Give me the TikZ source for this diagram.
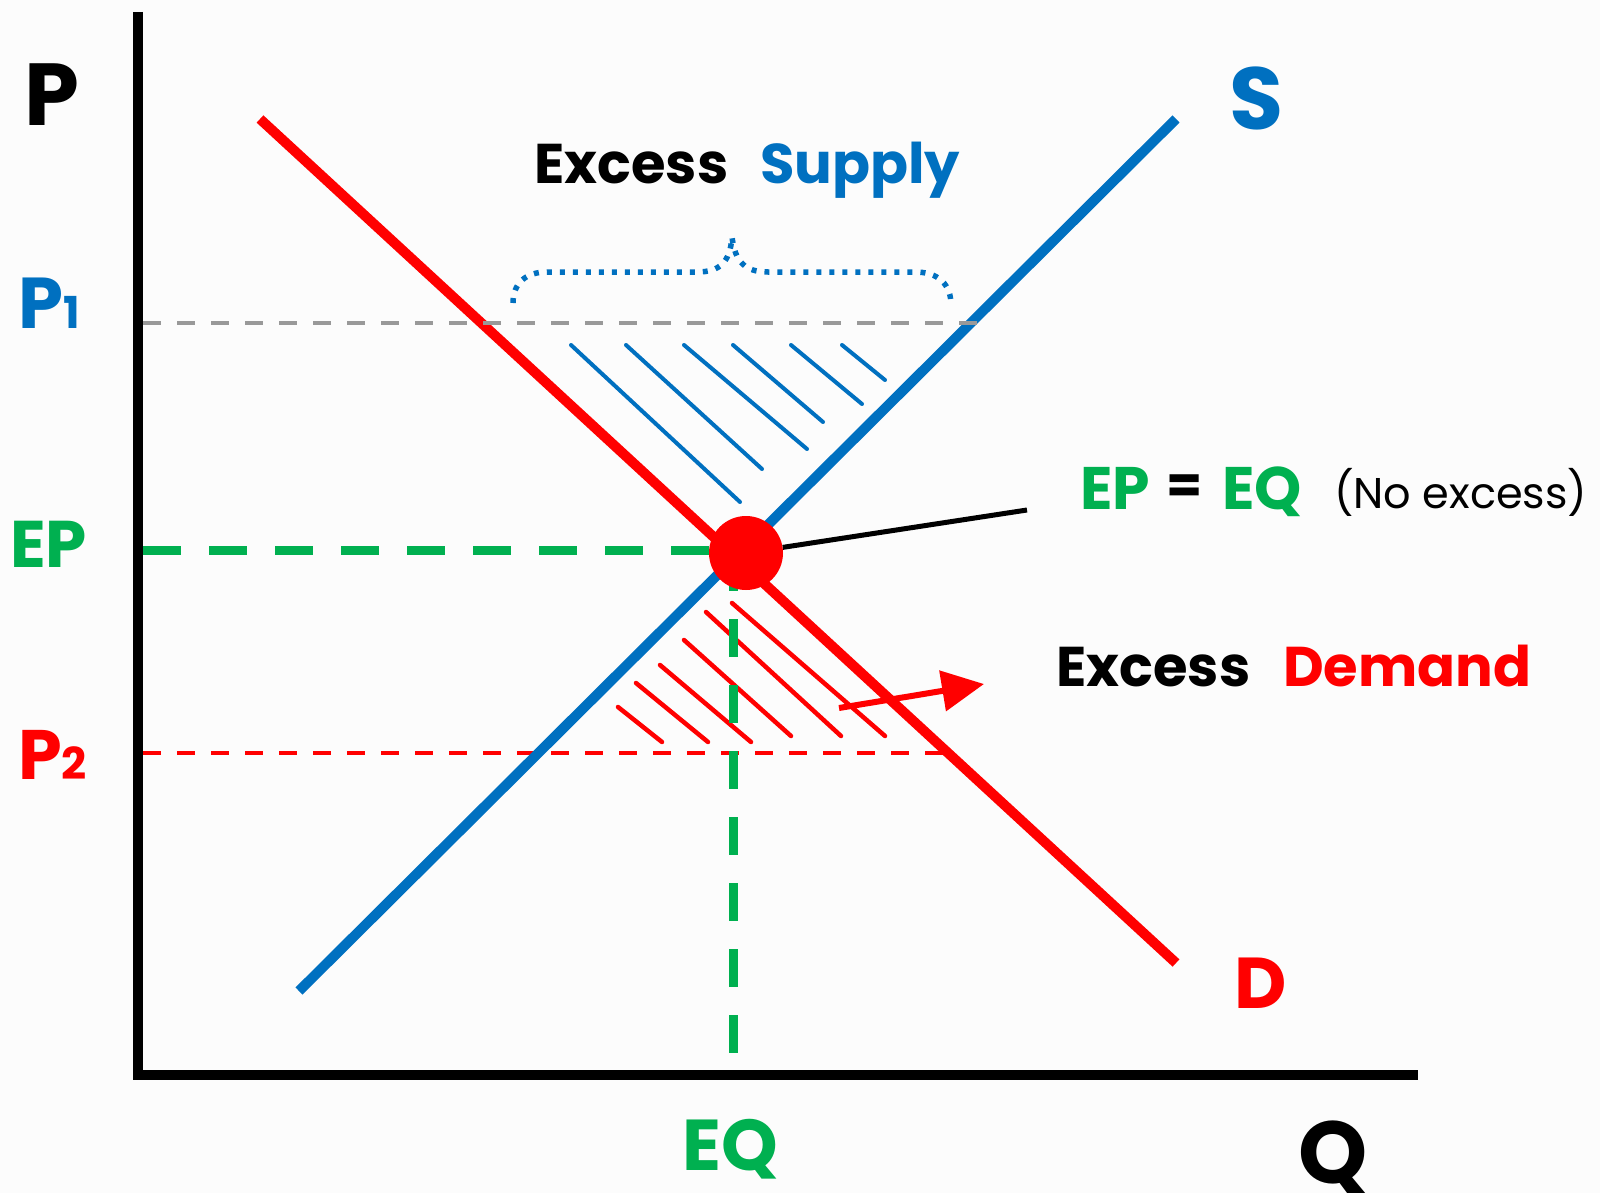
\documentclass[tikz,border=0pt]{standalone}
\usepackage{fontspec}
\setmainfont{Poppins}
\usetikzlibrary{arrows.meta}
\definecolor{sblue}{HTML}{0070C0}
\definecolor{dred}{HTML}{FF0000}
\definecolor{egreen}{HTML}{00B050}
\definecolor{pgray}{HTML}{999999}
\definecolor{bgc}{HTML}{FCFCFC}
\newcommand\fsz[1]{\fontsize{#1}{#1}\selectfont}
\begin{document}
\begin{tikzpicture}[x=1pt,y=-1pt,
  lbl/.style={inner sep=0pt, anchor=base west},
  axisline/.style={line width=10pt, black},
  curveline/.style={line width=10pt},
  hatchS/.style={sblue, line width=4pt, line cap=round},
  hatchD/.style={dred, line width=4.5pt, line cap=round},
  greendash/.style={egreen, line width=9pt, dash pattern=on 38pt off 28pt},
  thindash/.style={line width=4.5pt, dash pattern=on 18pt off 16pt}]
\fill[bgc] (0,0) rectangle (1600,1193);
\useasboundingbox (0,0) rectangle (1600,1193);

% axes
\coordinate (ytop) at (138,12);
\coordinate (orig) at (138,1075);
\coordinate (xend) at (1418,1075);
\draw[axisline] (ytop) -- (138,1080);
\draw[black, line width=10pt] (orig) -- (xend);

% P1 and P2 levels
\coordinate (p1a) at (143,323);
\coordinate (p1b) at (985,323);
\coordinate (p2a) at (143,753);
\coordinate (p2b) at (946,753);
\draw[thindash, dred] (p2a) -- (p2b);

% hatching (excess supply)
\draw[hatchS] (571,345) -- (740,502);
\draw[hatchS] (626,345) -- (762,469);
\draw[hatchS] (684,345) -- (807,449);
\draw[hatchS] (733,345) -- (823,422);
\draw[hatchS] (791,345) -- (862,404);
\draw[hatchS] (842,345) -- (885,380);

% hatching (excess demand)
\draw[hatchD] (618,707) -- (662,742);
\draw[hatchD] (636,683) -- (708,742);
\draw[hatchD] (660,665) -- (751,742);
\draw[hatchD] (684,640) -- (791,736);
\draw[hatchD] (706,612) -- (841,736);
\draw[hatchD] (732,603) -- (885,736);

% supply and demand
\coordinate (s1) at (299,991);
\coordinate (s2) at (1176,119);
\coordinate (d1) at (260,119);
\coordinate (d2) at (1176,963);
\draw[curveline, sblue] (s1) -- (s2);
\draw[curveline, dred] (d1) -- (d2);

\draw[thindash, pgray] (p1a) -- (p1b);

% brace
\draw[sblue, line width=5.5pt, line join=round, dash pattern=on 5pt off 8pt]
  (513,303) .. controls (513,284) and (525,272) .. (547,272)
  -- (697,272) .. controls (720,272) and (730,262) .. (732,237)
  .. controls (735,262) and (745,272) .. (768,272)
  -- (915,272) .. controls (938,272) and (951,284) .. (951,305);

% equilibrium dashed lines
\coordinate (epa) at (143,550);
\coordinate (eqb) at (733,1071);
\draw[greendash] (epa) -- (746,550);
\draw[greendash] (733,553) -- (eqb);
\node[circle, fill=dred, minimum size=74pt, inner sep=0pt] (eqdot) at (746,553) {};

% connector to label
\coordinate (lblpt) at (1027,510);
\draw[black, line width=5pt] (eqdot) -- (lblpt);

% red arrow
\coordinate (arrS) at (839,708);
\coordinate (arrE) at (984,684);
\draw[dred, line width=6pt, -{Triangle[length=42pt,width=40pt]}] (arrS) -- (arrE);

% labels
\node[lbl, font=\bfseries\fsz{88}] (labP) at (24,126) {P};
\node[lbl, font=\bfseries\fsz{72}, text=sblue] (labP1) at (18,328) {P{\fsz{44}1}};
\node[lbl, font=\bfseries\fsz{66}, text=egreen] (labEP) at (10,567) {EP};
\node[lbl, font=\bfseries\fsz{70}, text=dred] (labP2) at (18,779) {P{\fsz{44}2}};
\node[lbl, font=\bfseries\fsz{88}, text=sblue] (labS) at (1229,130) {S};
\node[lbl, font=\bfseries\fsz{72}, text=dred] (labD) at (1234,1008) {D};
\node[lbl, font=\bfseries\fsz{88}] (labQ) at (1298,1183) {Q};
\node[lbl, font=\bfseries\fsz{72}, text=egreen] (labEQ) at (682,1170) {EQ};
\node[lbl, font=\bfseries\fsz{56}] (exs1) at (534,184) {Excess};
\node[lbl, font=\bfseries\fsz{56}, text=sblue] (exs2) at (760,184) {Supply};
\node[lbl, font=\bfseries\fsz{56}] (exd1) at (1056,686) {Excess};
\node[lbl, font=\bfseries\fsz{56}, text=dred] (exd2) at (1283,686) {Demand};
\node[lbl, font=\bfseries\fsz{60}, text=egreen] (eqEP) at (1080,509) {EP};
\node[lbl, font=\bfseries\fsz{52}] (eqeq) at (1166,503) {=};
\node[lbl, font=\bfseries\fsz{60}, text=egreen] (eqEQ) at (1222,509) {EQ};
\node[lbl, font=\fsz{43}] (noex) at (1334,508) {(No excess)};
\end{tikzpicture}
\end{document}
